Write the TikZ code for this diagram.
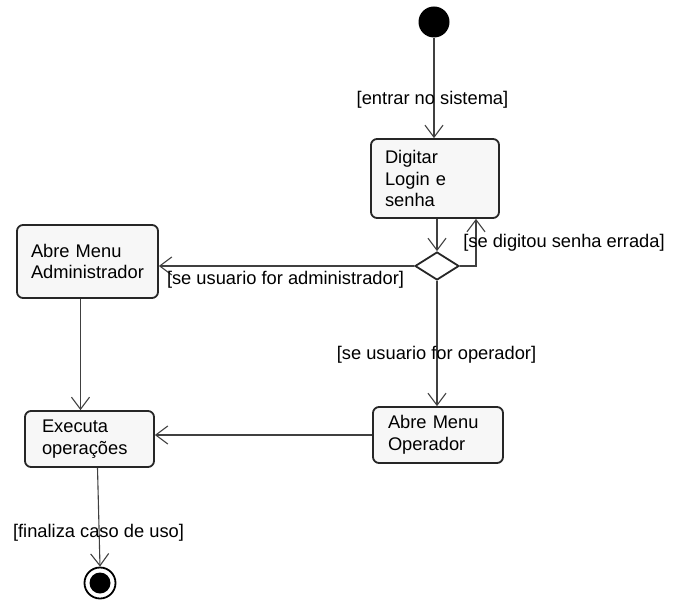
\documentclass[tikz,border=0pt]{standalone}
\usepackage{fontspec}
\setmainfont{Liberation Sans}
\usetikzlibrary{arrows.meta,shapes.geometric}
\begin{document}
\begin{tikzpicture}[x=1pt,y=-1pt,
  every node/.style={font=\fontsize{18.3}{21.5}\selectfont},
  actbox/.style={draw=black!85,line width=1.8pt,rounded corners=6pt,fill=gray!6,
    align=left,inner xsep=0pt,inner ysep=0pt,anchor=center},
  flow/.style={draw=black!75,line width=1.1pt,-{Straight Barb[length=12pt,width=18pt,line width=1.1pt]}},
  guard/.style={inner sep=0pt,anchor=center}]
\useasboundingbox (0,0) rectangle (679,601);
% nodes
\node[circle,fill=black,minimum size=31pt,inner sep=0pt] (init) at (434,22) {};
\node[actbox,minimum width=128pt,minimum height=79pt,text width=100pt] (login) at (435,178.5) {Digitar\\Login e\\senha};
\node[diamond,draw=black!85,line width=1.8pt,fill=white,minimum width=44pt,minimum height=28pt,inner sep=0pt] (dec) at (437,266) {};
\node[actbox,minimum width=141pt,minimum height=73pt,text width=113pt] (admin) at (87.5,261.5) {Abre Menu\\Administrador};
\node[actbox,minimum width=129pt,minimum height=56pt,text width=95pt] (exe) at (89.5,439) {Executa\\operações};
\node[actbox,minimum width=130pt,minimum height=56pt,text width=100pt] (oper) at (438,435) {Abre Menu\\Operador};
\node[circle,draw=black,line width=1.8pt,minimum size=31pt,inner sep=0pt] (final) at (100,583) {};
\node[circle,fill=black,minimum size=21pt,inner sep=0pt] at (final.center) {};
\coordinate (loopc) at (476,266);
% connectors
\draw[flow] (init.south) -- (login.north -| init.south);
\draw[flow] (login.south -| dec.north) -- (dec.north);
\draw[flow] (dec.east) -- (loopc) -- (login.south -| loopc);
\draw[flow] (dec.west) -- (admin.east |- dec.west);
\draw[flow] (dec.south) -- (oper.north -| dec.south);
\draw[flow] ([xshift=-7pt]admin.south) -- ([xshift=-9pt]exe.north);
\draw[flow] (oper.west) -- (exe.east |- oper.west);
\draw[flow] ([xshift=8pt]exe.south) -- (final.north);
% guards
\node[guard] (g1) at (432.5,100) {[entrar no sistema]};
\node[guard] (g2) at (564,243) {[se digitou senha errada]};
\node[guard] (g3) at (285.5,280) {[se usuario for administrador]};
\node[guard] (g4) at (436.5,355) {[se usuario for operador]};
\node[guard] (g5) at (98.5,533) {[finaliza caso de uso]};
\end{tikzpicture}
\end{document}
